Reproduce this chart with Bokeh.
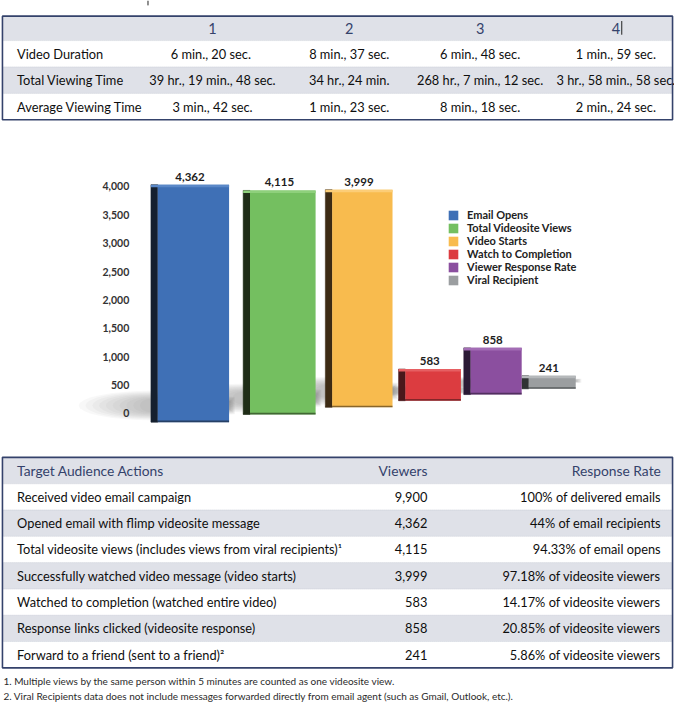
import numpy as np
from bokeh.plotting import figure
from bokeh.layouts import column
from bokeh.models import (Range1d, FixedTicker, NumeralTickFormatter, Legend,
                          LegendItem, ColumnDataSource)
from bokeh.core.properties import value
from bokeh.embed import file_html
from bokeh.resources import INLINE

# ---------------- data ----------------
summary_cols = ["1", "2", "3", "4"]
summary_rows = ["Video Duration", "Total Viewing Time", "Average Viewing Time"]
video_duration = ["6  min., 20 sec.", "8 min., 37 sec.", "6 min., 48 sec.", "1 min., 59 sec."]
total_viewing = ["39 hr., 19 min., 48 sec.", "34 hr., 24 min.", "268 hr., 7 min., 12 sec.", "3 hr., 58 min., 58 sec."]
avg_viewing = ["3 min., 42 sec.", "1 min., 23 sec.", "8 min., 18 sec.", "2 min., 24 sec."]

metrics = ["Email Opens", "Total Videosite Views", "Video Starts",
           "Watch to Completion", "Viewer Response Rate", "Viral Recipient"]
metric_values = [4362, 4115, 3999, 583, 858, 241]
y_ticks = [0, 500, 1000, 1500, 2000, 2500, 3000, 3500, 4000]

action_header = ["Target Audience Actions", "Viewers", "Response Rate"]
actions = ["Received video email campaign",
           "Opened email with flimp videosite message",
           "Total videosite views (includes views from viral recipients)\u00b9",
           "Successfully watched video message (video starts)",
           "Watched to completion (watched entire video)",
           "Response links clicked (videosite response)",
           "Forward to a friend (sent to a friend)\u00b2"]
viewers = [9900, 4362, 4115, 3999, 583, 858, 241]
response_rates = ["100% of delivered emails", "44% of email recipients",
                  "94.33% of email opens", "97.18% of videosite viewers",
                  "14.17% of videosite viewers", "20.85% of videosite viewers",
                  "5.86% of videosite viewers"]
footnotes = ["1.  Multiple views by the same person within 5 minutes are counted as one videosite view.",
             "2.  Viral Recipients data does not include messages  forwarded directly from email agent (such as Gmail, Outlook, etc.)."]

# ---------------- styles ----------------
FONT = "Lato"
W, H = 674, 703
SX, SY = W / 690, H / 719
NAVY = "#34426b"
BAND = "#dfe1e8"
TXT = "#0e0e0e"
face_colors = ["#3f70b6", "#74bf60", "#f8bb4e", "#dc3c40", "#8b4f9f", "#9b9ea0"]
side_colors = ["#15202f", "#1f2d17", "#3d2b14", "#4a181b", "#2b1a35", "#303334"]
top_colors = ["#5a88c8", "#8ed07b", "#fccd77", "#e65f62", "#a36db5", "#b5b8ba"]


def table_fig(h, y0, y1):
    p = figure(width=W, height=h, x_range=Range1d(0, 690), y_range=Range1d(y1, y0),
               output_backend="svg", toolbar_location=None, x_axis_location=None,
               y_axis_location=None, min_border=0, outline_line_color=None,
               frame_align=False)
    p.grid.grid_line_color = None
    p.background_fill_color = "white"
    return p


def txt(p, x, y, t, size, color=TXT, align="left", style="normal"):
    p.text(x=x, y=y, text=t, text_font=value(FONT), text_font_size=size,
           text_color=color, text_align=align, text_baseline="middle",
           text_font_style=style)


# ---------------- top table ----------------
top_h = round(145 * SY)
pt = table_fig(top_h, 0, top_h / SY)
t_top, t_head, t_row = 16, 25, 27
col_centers = [217, 357, 491, 630]
row_vals = [video_duration, total_viewing, avg_viewing]
n_rows = len(summary_rows)
tops = [t_top] + [t_top + t_head + t_row * i for i in range(n_rows)]
bots = [t_top + t_head] + [t_top + t_head + t_row * (i + 1) for i in range(n_rows)]
fills = [BAND if i % 2 == 0 else "white" for i in range(n_rows + 1)]
pt.quad(left=2, right=688, top=tops, bottom=bots, fill_color=fills, line_color=None)
pt.segment(x0=2, x1=688, y0=bots[:-1], y1=bots[:-1], line_color="#c9cdd7",
           line_width=1, line_dash="1 1")
pt.quad(left=2, right=688, top=t_top, bottom=bots[-1], fill_color=None,
        line_color=NAVY, line_width=1.6)
txt(pt, col_centers, [(tops[0] + bots[0]) / 2] * 4, summary_cols, "14.5px", NAVY, "center")
pt.segment(x0=[636, 151], x1=[636, 151], y0=[21, 0], y1=[35, 5], line_color="#222", line_width=1)
for i, lab in enumerate(summary_rows):
    yc = (tops[i + 1] + bots[i + 1]) / 2
    txt(pt, [17], [yc], [lab], "12.8px")
    txt(pt, col_centers, [yc] * 4, row_vals[i], "12.8px", align="center")

# ---------------- chart ----------------
c_y0 = 145
c_h = 303
c_y1 = c_y0 + c_h / SY
F = 70                                  # left border of chart frame (px)
axis_x = 140                            # where the value axis sits (ref px)
zero_px, k_px = 422, 4000 / (422 - 190)  # axis calibration (ref px)
y_lo = -(c_y1 - zero_px) * k_px
y_hi = 4000 + (190 - c_y0) * k_px
pc = figure(width=W, height=c_h, x_range=Range1d(F / SX, 690), y_range=Range1d(y_lo, y_hi),
            output_backend="svg", toolbar_location=None, x_axis_location=None,
            min_border_left=F, min_border_right=0, min_border_top=0,
            min_border_bottom=0, outline_line_color=None, frame_align=False)
pc.grid.grid_line_color = None
ax = pc.yaxis[0]
ax.fixed_location = axis_x
ax.ticker = FixedTicker(ticks=y_ticks)
ax.formatter = NumeralTickFormatter(format="0,0")
ax.axis_line_color = None
ax.major_tick_line_color = None
ax.minor_tick_line_color = None
ax.major_tick_out = 0
ax.major_tick_in = 0
ax.major_label_standoff = 8
ax.major_label_text_font = FONT
ax.major_label_text_font_size = "10.5px"
ax.major_label_text_font_style = "bold"
ax.major_label_text_color = "#333333"

# perspective layout (style): bars recede to the right
n = len(metric_values)
c0, step0, decay = 197.5, 91.5, 0.89
w0, wdecay = 73, 0.92
side_w = 7
base0, rise0, rdecay = -155, 135, 0.93
shrink = 0.96
centers, widths, bases = [], [], []
c, st, b, r = c0, step0, base0, rise0
for i in range(n):
    centers.append(c)
    widths.append(w0 * wdecay ** i)
    bases.append(b)
    c += st
    st *= decay
    b += r
    r *= rdecay
lefts = [cc - ww / 2 for cc, ww in zip(centers, widths)]
rights = [cc + ww / 2 for cc, ww in zip(centers, widths)]
topsb = [bb + v * shrink for bb, v in zip(bases, metric_values)]
sides = [l - side_w for l in lefts]

# soft floor shadows behind the bars (layered translucent half-ellipses)
th = np.linspace(np.pi / 2, 3 * np.pi / 2, 17)
for k in np.linspace(1.0, 0.15, 10):
    xs, ys = [], []
    for i in range(n):
        s = (metric_values[i] / metric_values[0]) ** 0.5
        ext = 74 * s * k
        ymid = bases[i] + 17 * k_px * s ** 0.5
        hh = 15 * k_px * s * (0.35 + 0.65 * k)
        ex = list(sides[i] + ext * np.cos(th))
        ey = list(ymid + hh * np.sin(th))
        xs.append([rights[i] + 6 * k] + ex + [rights[i] + 6 * k])
        ys.append([ymid + hh * 0.6] + ey[::-1][::-1] + [ymid - hh * 0.6])
    pc.patches(xs=xs, ys=ys, fill_color="#555555", fill_alpha=0.045, line_color=None)

src = ColumnDataSource(dict(left=lefts, right=rights, bottom=bases, top=topsb,
                            sl=sides, face=face_colors, side=side_colors,
                            name=metrics, lab=[f"{v:,}" for v in metric_values],
                            lx=[(l + rr) / 2 for l, rr in zip(sides, rights)]))
pc.quad(left="sl", right="left", bottom="bottom", top="top", source=src,
        fill_color="side", line_color="side", line_width=0.5)
faces = pc.quad(left="left", right="right", bottom="bottom", top="top", source=src,
                fill_color="face", line_color=None)
pc.quad(left=sides, right=rights, bottom=[t - 45 for t in topsb], top=topsb,
        fill_color=top_colors, line_color=None)
pc.quad(left=sides, right=rights, bottom=bases, top=[bb + 30 for bb in bases],
        fill_color=side_colors, fill_alpha=0.6, line_color=None)
pc.text(x="lx", y="top", text="lab", source=src, text_font=value(FONT),
        text_font_size="11.5px", text_font_style="bold", text_color="#1d1d1d",
        text_align="center", text_baseline="bottom", y_offset=-4)

legend = Legend(items=[LegendItem(label=m, renderers=[faces], index=i)
                       for i, m in enumerate(metrics)],
                location=(round(458 * SX - F), round((c_y1 - 292) * SY)),
                orientation="vertical", padding=0, margin=0, spacing=0,
                glyph_width=12, glyph_height=12, label_standoff=8,
                label_height=13, label_text_font=FONT, label_text_font_size="11px",
                label_text_font_style="bold", label_text_color="#222222",
                border_line_color=None, background_fill_alpha=0)
pc.add_layout(legend, "center")

# ---------------- bottom table ----------------
b_y0 = c_y1
b_h = H - top_h - c_h
pb = table_fig(b_h, b_y0, b_y0 + b_h / SY)
bt_top, bt_head, bt_row = 467, 27, 26.9
nb = len(actions)
btops = [bt_top] + [bt_top + bt_head + bt_row * i for i in range(nb)]
bbots = [bt_top + bt_head] + [bt_top + bt_head + bt_row * (i + 1) for i in range(nb)]
bfills = [BAND if i % 2 == 0 else "white" for i in range(nb + 1)]
pb.quad(left=2, right=688, top=btops, bottom=bbots, fill_color=bfills, line_color=None)
pb.segment(x0=2, x1=688, y0=bbots[:-1], y1=bbots[:-1], line_color="#c9cdd7",
           line_width=1, line_dash="1 1")
pb.quad(left=2, right=688, top=bt_top, bottom=bbots[-1], fill_color=None,
        line_color=NAVY, line_width=1.6)
hy = (btops[0] + bbots[0]) / 2
txt(pb, [17], [hy], [action_header[0]], "13.8px", NAVY)
txt(pb, [437, 676], [hy, hy], action_header[1:], "13.8px", NAVY, "right")
ryc = [(btops[i + 1] + bbots[i + 1]) / 2 for i in range(nb)]
txt(pb, [17] * nb, ryc, actions, "12.8px")
txt(pb, [437] * nb, ryc, [f"{v:,}" for v in viewers], "12.8px", align="right")
txt(pb, [676] * nb, ryc, response_rates, "12.8px", align="right")
txt(pb, [3, 3], [696, 711], footnotes, "10px", "#2a2a2a")

layout = column(pt, pc, pb, spacing=0)
open("out.html", "w").write(file_html(layout, INLINE))
